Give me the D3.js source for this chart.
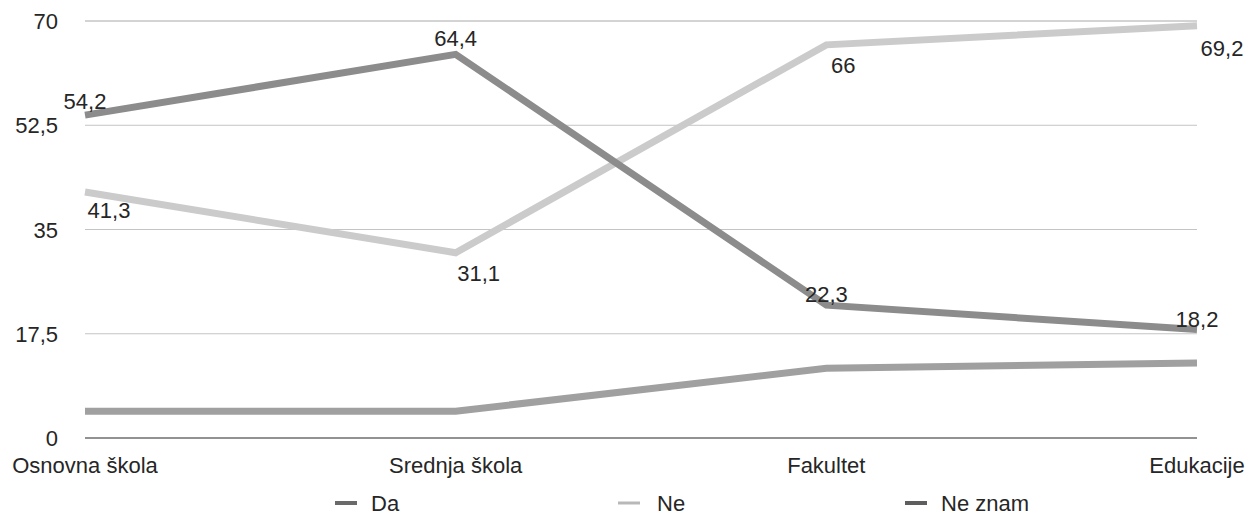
<!DOCTYPE html>
<html>
<head>
<meta charset="utf-8">
<script src="https://cdn.jsdelivr.net/npm/d3@7"></script>
<style>
  body { margin: 0; background: #fff; }
  text { font-family: "Liberation Sans", Arial, sans-serif; fill: #262626; }
</style>
</head>
<body>
<svg id="chart"></svg>
<script>
const categories = ["Osnovna škola", "Srednja škola", "Fakultet", "Edukacije"];
const seriesNames = ["Da", "Ne", "Ne znam"];
const daValues = [54.2, 64.4, 22.3, 18.2];
const neValues = [41.3, 31.1, 66, 69.2];
const neZnamValues = [4.5, 4.5, 11.7, 12.6];
const yTicks = [0, 17.5, 35, 52.5, 70];

const width = 1257, height = 515;
const margin = { left: 85, right: 60, top: 21, bottom: 77 };

const svg = d3.select("#chart").attr("width", width).attr("height", height);

const x = d3.scalePoint().domain(categories).range([margin.left, width - margin.right]);
const y = d3.scaleLinear().domain([0, 70]).range([height - margin.bottom, margin.top]);

const fmt = v => String(v).replace(".", ",");

// gridlines
svg.append("g").selectAll("line")
  .data(yTicks.filter(t => t > 0))
  .enter().append("line")
  .attr("x1", margin.left).attr("x2", width - margin.right)
  .attr("y1", d => y(d)).attr("y2", d => y(d))
  .attr("stroke", d => d === 70 ? "#a8a8a8" : "#c4c4c4").attr("stroke-width", 1);

// baseline
svg.append("line")
  .attr("x1", margin.left).attr("x2", width - margin.right)
  .attr("y1", y(0)).attr("y2", y(0))
  .attr("stroke", "#6e6e6e").attr("stroke-width", 1.6);

// y labels
svg.append("g").selectAll("text")
  .data(yTicks)
  .enter().append("text")
  .attr("x", 58).attr("y", d => y(d) + 8)
  .attr("text-anchor", "end")
  .style("font-size", "22px")
  .text(d => fmt(d));

// x labels
svg.append("g").selectAll("text")
  .data(categories)
  .enter().append("text")
  .attr("x", d => x(d)).attr("y", 473)
  .attr("text-anchor", "middle")
  .style("font-size", "22px")
  .text(d => d);

const series = [
  { name: "Ne znam", values: neZnamValues, color: "#a0a0a0" },
  { name: "Ne", values: neValues, color: "#cbcbcb" },
  { name: "Da", values: daValues, color: "#8c8c8c" }
];

const line = d3.line()
  .x((d, i) => x(categories[i]))
  .y(d => y(d));

svg.append("g").selectAll("path")
  .data(series)
  .enter().append("path")
  .attr("d", d => line(d.values))
  .attr("fill", "none")
  .attr("stroke", d => d.color)
  .attr("stroke-width", 7)
  .attr("stroke-linejoin", "miter");

// value labels (offsets relative to point)
const daLabelOffsets = [[0, -6], [0, -8], [0, -3], [0, -3]];
const neLabelOffsets = [[24, 26], [23, 28], [17, 28], [25, 30]];

function addLabels(values, offsets) {
  svg.append("g").selectAll("text")
    .data(values)
    .enter().append("text")
    .attr("x", (d, i) => x(categories[i]) + offsets[i][0])
    .attr("y", (d, i) => y(d) + offsets[i][1])
    .attr("text-anchor", "middle")
    .style("font-size", "22px")
    .text(d => fmt(d));
}
addLabels(daValues, daLabelOffsets);
addLabels(neValues, neLabelOffsets);

// legend
const legendX = [335, 618, 905];
const legendColors = { "Da": "#6a6a6a", "Ne": "#b8b8b8", "Ne znam": "#5e5e5e" };
const legend = svg.append("g").selectAll("g")
  .data(seriesNames)
  .enter().append("g")
  .attr("transform", (d, i) => `translate(${legendX[i]}, 503)`);
legend.append("line")
  .attr("x1", 0).attr("x2", 22)
  .attr("stroke", d => legendColors[d])
  .attr("stroke-width", d => d === "Ne" ? 3 : 4);
legend.append("text")
  .attr("x", d => d === "Ne" ? 39 : 36).attr("y", 8)
  .style("font-size", "22px")
  .text(d => d);
</script>
</body>
</html>
